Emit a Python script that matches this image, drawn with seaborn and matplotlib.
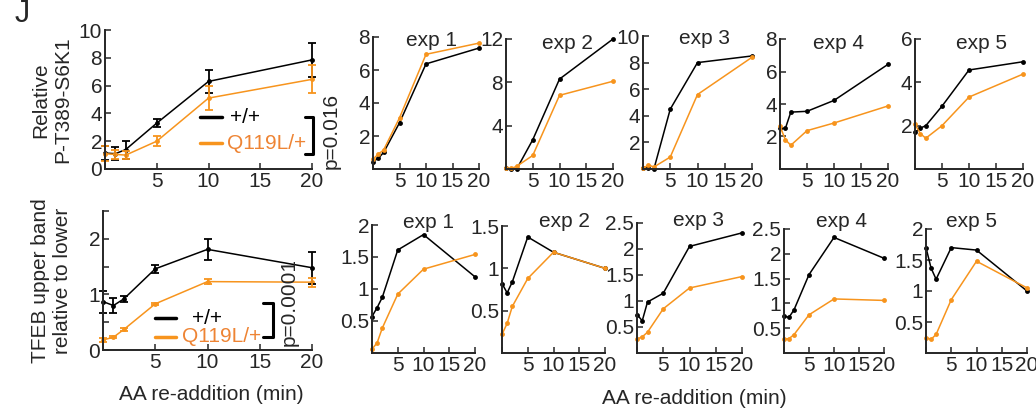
import pandas as pd
import seaborn as sns
from matplotlib import pyplot as plt

# ---- data ----
minutes = [0, 1, 2, 5, 10, 20]
genotypes = ["+/+", "Q119L/+"]

# averaged panels (mean, error)
s6k1_wt_mean = [1.15, 1.1, 1.4, 3.3, 6.3, 7.85]
s6k1_wt_err = [0.5, 0.45, 0.65, 0.3, 0.85, 1.2]
s6k1_mut_mean = [1.1, 1.05, 1.0, 2.0, 5.1, 6.45]
s6k1_mut_err = [0.55, 0.35, 0.3, 0.35, 0.85, 1.0]

tfeb_wt_mean = [0.87, 0.8, 0.92, 1.46, 1.81, 1.48]
tfeb_wt_err = [0.2, 0.14, 0.05, 0.07, 0.19, 0.29]
tfeb_mut_mean = [0.18, 0.23, 0.37, 0.83, 1.23, 1.22]
tfeb_mut_err = [0.03, 0.02, 0.03, 0.02, 0.04, 0.08]

# individual experiments
s6k1_wt_exps = [
    [0.45, 0.65, 1.0, 2.8, 6.37, 7.33],
    [0.05, 0.0, 0.0, 2.7, 8.3, 12.0],
    [0.1, 0.05, 0.0, 4.5, 8.0, 8.5],
    [2.5, 2.5, 3.5, 3.55, 4.22, 6.44],
    [1.69, 1.89, 2.0, 2.9, 4.57, 4.95],
]
s6k1_mut_exps = [
    [0.6, 0.9, 1.15, 3.1, 6.95, 7.63],
    [0.05, 0.05, 0.25, 1.25, 6.8, 8.1],
    [0.05, 0.3, 0.15, 0.9, 5.6, 8.4],
    [2.63, 1.8, 1.46, 2.36, 2.83, 3.88],
    [2.07, 1.63, 1.42, 2.0, 3.32, 4.38],
]
tfeb_wt_exps = [
    [0.57, 0.71, 0.87, 1.61, 1.85, 1.19],
    [0.82, 0.71, 0.84, 1.37, 1.19, 1.0],
    [0.74, 0.62, 0.98, 1.15, 2.05, 2.31],
    [0.74, 0.72, 0.87, 1.58, 2.33, 1.91],
    [1.70, 1.37, 1.19, 1.70, 1.66, 1.0],
]
tfeb_mut_exps = [
    [0.06, 0.16, 0.39, 0.92, 1.31, 1.54],
    [0.22, 0.35, 0.55, 0.88, 1.19, 1.0],
    [0.27, 0.31, 0.40, 0.85, 1.25, 1.47],
    [0.28, 0.29, 0.37, 0.77, 1.09, 1.06],
    [0.25, 0.22, 0.30, 0.86, 1.48, 1.05],
]
exp_names = ["exp 1", "exp 2", "exp 3", "exp 4", "exp 5"]

s6k1_exp_yticks = [[2, 4, 6, 8], [4, 8, 12], [2, 4, 6, 8, 10], [2, 4, 6, 8], [2, 4, 6]]
s6k1_exp_ymax = [8, 12, 10, 8, 6]
tfeb_exp_yticks = [[0.5, 1, 1.5, 2], [0.5, 1, 1.5], [0.5, 1, 1.5, 2, 2.5],
                   [0.5, 1, 1.5, 2, 2.5], [0.5, 1, 1.5, 2]]
tfeb_exp_ymax = [2, 1.5, 2.5, 2.5, 2]

BLACK = "#000000"
ORANGE = "#F7941D"
ORANGE_TXT = "#EE8434"
palette = {"+/+": BLACK, "Q119L/+": ORANGE}

W, H = 1036, 409
FS = 15

sns.set_style("ticks")
plt.rcParams["font.family"] = ["Liberation Sans", "DejaVu Sans"]
plt.rcParams["font.size"] = FS


def long_df(wt, mut):
    rows = []
    for g, vals in zip(genotypes, [wt, mut]):
        for m, v in zip(minutes, vals):
            rows.append([m, v, g])
    return pd.DataFrame(rows, columns=["min", "value", "genotype"])


def px_axes(fig, left, top, right, bottom):
    return fig.add_axes([left / W, 1 - bottom / H, (right - left) / W, (bottom - top) / H])


def style_axis(ax, ymax, yticks, ylabels):
    ax.set_xlim(0, 20)
    ax.set_ylim(0, ymax)
    ax.set_xticks([0, 5, 10, 15, 20])
    ax.set_xticklabels(["", "5", "10", "15", "20"])
    ax.set_yticks(yticks)
    ax.set_yticklabels(ylabels)
    ax.set_xlabel("")
    ax.set_ylabel("")
    sns.despine(ax=ax)
    for s in ["left", "bottom"]:
        ax.spines[s].set_linewidth(1.4)
    ax.tick_params(direction="in", length=4, width=1.1, pad=2, labelsize=FS)


def draw_lines(ax, wt, mut):
    df = long_df(wt, mut)
    sns.lineplot(data=df, x="min", y="value", hue="genotype", hue_order=genotypes,
                 palette=palette, marker="o", markersize=3.5, markeredgewidth=0,
                 linewidth=1.1, legend=False, errorbar=None, ax=ax, clip_on=False)


def fmt(v):
    return "%g" % v


fig = plt.figure(figsize=(W / 100, H / 100), dpi=100)

# ---- averaged S6K1 panel ----
ax = px_axes(fig, 105, 30, 312, 169)
draw_lines(ax, s6k1_wt_mean, s6k1_mut_mean)
for mean, err, c in [(s6k1_wt_mean, s6k1_wt_err, BLACK), (s6k1_mut_mean, s6k1_mut_err, ORANGE)]:
    ax.errorbar(minutes, mean, yerr=err, fmt="none", ecolor=c, elinewidth=1.3,
                capsize=3, capthick=1.3, clip_on=False)
style_axis(ax, 10, [0, 2, 4, 6, 8, 10], ["0", "2", "4", "6", "8", "10"])
ax.plot([0.459, 0.565], [0.374, 0.374], color=BLACK, lw=2.5, transform=ax.transAxes)
ax.plot([0.459, 0.565], [0.187, 0.187], color=ORANGE, lw=2.5, transform=ax.transAxes)
ax.text(0.604, 0.374, "+/+", color=BLACK, va="center", ha="left", transform=ax.transAxes)
ax.text(0.589, 0.187, "Q119L/+", color=ORANGE_TXT, va="center", ha="left", transform=ax.transAxes)
ax.plot([0.966, 1.005, 1.005, 0.966], [0.374, 0.374, 0.108, 0.108], color=BLACK, lw=2.2,
        transform=ax.transAxes, clip_on=False)
ax.text(1.092, 0.273, "p=0.016", rotation=90, ha="center", va="center", transform=ax.transAxes)
fig.text(52 / W, 1 - 100 / H, "Relative\nP-T389-S6K1", rotation=90, ha="center", va="center",
         multialignment="center", fontsize=FS)

# ---- averaged TFEB panel ----
ax = px_axes(fig, 103, 211, 312, 350)
draw_lines(ax, tfeb_wt_mean, tfeb_mut_mean)
for mean, err, c in [(tfeb_wt_mean, tfeb_wt_err, BLACK), (tfeb_mut_mean, tfeb_mut_err, ORANGE)]:
    ax.errorbar(minutes, mean, yerr=err, fmt="none", ecolor=c, elinewidth=1.3,
                capsize=3, capthick=1.3, clip_on=False)
style_axis(ax, 2.5, [0, 0.5, 1, 1.5, 2, 2.5], ["0", "", "1", "", "2", ""])
ax.plot([0.249, 0.349], [0.23, 0.23], color=BLACK, lw=2.5, transform=ax.transAxes)
ax.plot([0.249, 0.349], [0.094, 0.094], color=ORANGE, lw=2.5, transform=ax.transAxes)
ax.text(0.426, 0.23, "+/+", color=BLACK, va="center", ha="left", transform=ax.transAxes)
ax.text(0.378, 0.094, "Q119L/+", color=ORANGE_TXT, va="center", ha="left", transform=ax.transAxes)
ax.plot([0.766, 0.813, 0.813, 0.766], [0.338, 0.338, 0.094, 0.094], color=BLACK, lw=2.2,
        transform=ax.transAxes, clip_on=False)
ax.text(0.89, 0.345, "p=0.0001", rotation=90, ha="center", va="center", transform=ax.transAxes)
fig.text(52 / W, 1 - 281 / H, "TFEB upper band\nrelative to lower", rotation=90, ha="center",
         va="center", multialignment="center", fontsize=FS)
fig.text(211 / W, 1 - 395 / H, "AA re-addition (min)", ha="center", va="center", fontsize=FS)

# ---- individual experiments ----
top_lefts = [373, 506, 643, 780, 915]
top_rights = [479, 613, 752, 888, 1023]
top_tops = [37, 39, 36, 39, 39]
top_title = [(0.55, 0.93), (0.57, 0.92), (0.56, 0.94), (0.54, 0.92), (0.62, 0.92)]
for i in range(5):
    ax = px_axes(fig, top_lefts[i], top_tops[i], top_rights[i], 169)
    draw_lines(ax, s6k1_wt_exps[i], s6k1_mut_exps[i])
    style_axis(ax, s6k1_exp_ymax[i], s6k1_exp_yticks[i], [fmt(v) for v in s6k1_exp_yticks[i]])
    tx, ty = top_title[i]
    ax.text(tx, ty, exp_names[i], ha="center", va="baseline", transform=ax.transAxes)

bot_lefts = [372, 502, 637, 784, 926]
bot_rights = [475, 605, 742, 884, 1027]
bot_tops = [225, 226, 223, 229, 229]
bot_title = [(0.55, 0.98), (0.61, 0.99), (0.59, 0.98), (0.57, 1.02), (0.45, 1.02)]
for i in range(5):
    ax = px_axes(fig, bot_lefts[i], bot_tops[i], bot_rights[i], 353)
    draw_lines(ax, tfeb_wt_exps[i], tfeb_mut_exps[i])
    style_axis(ax, tfeb_exp_ymax[i], tfeb_exp_yticks[i], [fmt(v) for v in tfeb_exp_yticks[i]])
    tx, ty = bot_title[i]
    ax.text(tx, ty, exp_names[i], ha="center", va="baseline", transform=ax.transAxes)

fig.text(694 / W, 1 - 399 / H, "AA re-addition (min)", ha="center", va="center", fontsize=FS)
fig.text(22 / W, 1 - 14 / H, "J", ha="center", va="center", fontsize=22)

plt.savefig("out.png", dpi=100)
